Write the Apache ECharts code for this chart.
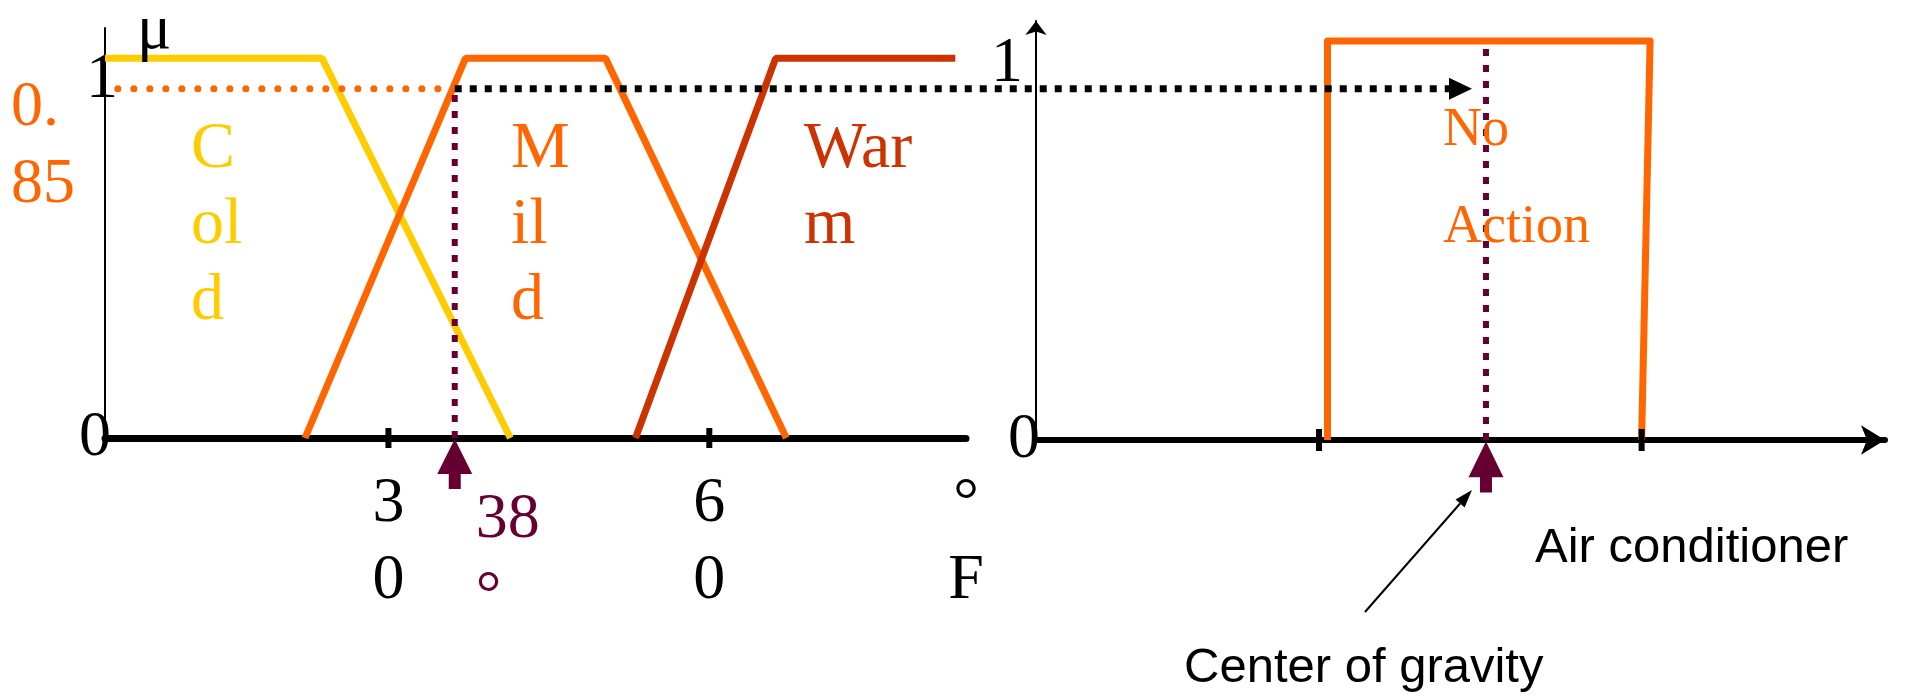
<!DOCTYPE html>
<html>
<head>
<meta charset="utf-8">
<title>Fuzzy air conditioner</title>
<script src="https://cdn.jsdelivr.net/npm/echarts/dist/echarts.min.js"></script>
<style>
  html, body { margin: 0; padding: 0; background: #fff; }
  #fuzzy { width: 1910px; height: 698px; }
</style>
</head>
<body>
<div id="fuzzy"></div>
<script>
// left: temperature (deg F) vs membership
var tempTicks = [30, 60];
var tempTickLabels = ['3\n0', '6\n0'];
var tempUnitAt = 84;
var tempUnitLabel = '°\nF';
var cold = [[3.5, 1], [23.8, 1], [41.4, 0]];
var mild = [[22.2, 0], [37.2, 1], [50.3, 1], [67.2, 0]];
var warm = [[53.1, 0], [66.2, 1], [83, 1]];
var inputTemp = 36.2;
var inputLabel = '38\n°';
var firingLevel = 0.92;
var firingLabel = '0.\n85';
var firingStart = 4.7;

// right: air conditioner output
var outTicks = [10, 21.4];
var noAction = [[10.3, 0], [10.3, 1], [21.7, 1], [21.4, 0]];
var centroid = 15.9;
var centroidTop = 0.98;
var outputLevel = 0.88;

var SERIF = '"Liberation Serif", "Times New Roman", serif';
var SANS = '"Liberation Sans", Arial, sans-serif';
var PURPLE = '#660033';

var dom = document.getElementById('fuzzy');
var myChart = echarts.init(dom);
var option = null;

// up arrow under the axis, tip sits on the data point
var upArrow = 'path://M17.5,0 L35,35 L23.5,35 L23.5,50 L11.5,50 L11.5,35 L0,35 Z';

function yLabels(shift1, shiftRight1, shiftRight0) {
  return {
    customValues: [0, 1],
    formatter: function (v) { return v === 1 ? '{one|1}' : '{zero|0}'; },
    rich: {
      one: { fontSize: 64, fontFamily: SERIF, color: '#000', padding: [shift1, shiftRight1, 0, 0] },
      zero: { fontSize: 64, fontFamily: SERIF, color: '#000', padding: [0, shiftRight0, 0, 0] }
    }
  };
}

option = {
  animation: false,
  backgroundColor: '#fff',
  grid: [
    { left: 105, right: 944, top: 28, bottom: 260 },
    { left: 1036, right: 25, top: 21, bottom: 258 }
  ],
  xAxis: [
    {
      gridIndex: 0, type: 'value', min: 3.5, max: 84,
      axisLine: { lineStyle: { color: '#000', width: 7 } },
      axisTick: { show: false },
      splitLine: { show: false },
      axisLabel: {
        customValues: tempTicks.concat([tempUnitAt]),
        formatter: function (v) {
          var i = tempTicks.indexOf(v);
          return i >= 0 ? tempTickLabels[i] : tempUnitLabel;
        },
        fontSize: 64, fontFamily: SERIF, color: '#000',
        lineHeight: 77, margin: 28
      }
    },
    {
      gridIndex: 1, type: 'value', min: 0, max: 30,
      axisLine: {
        symbol: ['none', 'arrow'], symbolSize: [22, 24],
        lineStyle: { color: '#000', width: 6 }
      },
      axisTick: { show: false },
      axisLabel: { show: false },
      splitLine: { show: false }
    }
  ],
  yAxis: [
    {
      gridIndex: 0, type: 'value', min: 0, max: 1.08,
      axisLine: { show: true, lineStyle: { color: '#000', width: 2 } },
      axisTick: { show: false },
      splitLine: { show: false },
      axisLabel: Object.assign({ margin: -13 }, yLabels(44, 0, 7))
    },
    {
      gridIndex: 1, type: 'value', min: 0, max: 1.05,
      axisLine: {
        show: true, symbol: ['none', 'arrow'], symbolSize: [16, 14],
        lineStyle: { color: '#000', width: 2 }
      },
      axisTick: { show: false },
      splitLine: { show: false },
      axisLabel: Object.assign({ margin: -4 }, yLabels(46, 17, 0))
    }
  ],
  series: [
    {
      name: 'Cold', type: 'line', xAxisIndex: 0, yAxisIndex: 0, data: cold,
      showSymbol: false, lineStyle: { color: '#FFCC00', width: 7 }
    },
    {
      name: 'Mild', type: 'line', xAxisIndex: 0, yAxisIndex: 0, data: mild,
      showSymbol: false, lineStyle: { color: '#FF6600', width: 7 }
    },
    {
      name: 'Warm', type: 'line', xAxisIndex: 0, yAxisIndex: 0, data: warm,
      showSymbol: false, lineStyle: { color: '#CC3300', width: 7 }
    },
    {
      // firing strength, dotted
      type: 'line', xAxisIndex: 0, yAxisIndex: 0,
      data: [[firingStart, firingLevel], [inputTemp, firingLevel]],
      showSymbol: false,
      lineStyle: { color: '#FF6600', width: 7, type: [0, 16], cap: 'round' }
    },
    {
      type: 'line', xAxisIndex: 0, yAxisIndex: 0,
      data: [[inputTemp, 0], [inputTemp, firingLevel]],
      showSymbol: false,
      lineStyle: { color: PURPLE, width: 6, type: [7, 9] }
    },
    {
      type: 'scatter', xAxisIndex: 0, yAxisIndex: 0,
      data: tempTicks.map(function (t) { return [t, 0]; }),
      symbol: 'rect', symbolSize: [6, 20], itemStyle: { color: '#000', opacity: 1 }, z: 5
    },
    {
      type: 'scatter', xAxisIndex: 0, yAxisIndex: 0, data: [[inputTemp, 0]],
      symbol: upArrow, symbolSize: [35, 50], symbolOffset: [0, 26],
      itemStyle: { color: PURPLE, opacity: 1 }, z: 5
    },
    {
      name: 'No Action', type: 'line', xAxisIndex: 1, yAxisIndex: 1, data: noAction,
      showSymbol: false, lineStyle: { color: '#FF6600', width: 7, join: 'round' }
    },
    {
      type: 'line', xAxisIndex: 1, yAxisIndex: 1,
      data: [[centroid, 0], [centroid, centroidTop]],
      showSymbol: false,
      lineStyle: { color: PURPLE, width: 6, type: [7, 9] }
    },
    {
      type: 'scatter', xAxisIndex: 1, yAxisIndex: 1,
      data: outTicks.map(function (t) { return [t, 0]; }),
      symbol: 'rect', symbolSize: [6, 22], itemStyle: { color: '#000', opacity: 1 }, z: 5
    },
    {
      type: 'scatter', xAxisIndex: 1, yAxisIndex: 1, data: [[centroid, 0]],
      symbol: upArrow, symbolSize: [35, 51], symbolOffset: [0, 27],
      itemStyle: { color: PURPLE, opacity: 1 }, z: 5
    }
  ]
};

if (option && typeof option === 'object') {
  myChart.setOption(option, true);
}

// annotations placed from the chart's own coordinates
var a = myChart.convertToPixel({ gridIndex: 0 }, [inputTemp, firingLevel]);
var c = myChart.convertToPixel({ gridIndex: 1 }, [centroid, outputLevel]);
var g = myChart.convertToPixel({ gridIndex: 1 }, [centroid, 0]);
var tipX = c[0] - 14;

// thin pointer to the centroid arrow
var tail = [g[0] - 121, g[1] + 172];
var head = [g[0] - 14, g[1] + 50];
var dx = head[0] - tail[0], dy = head[1] - tail[1];
var len = Math.sqrt(dx * dx + dy * dy);
var ux = dx / len, uy = dy / len;
var bx = head[0] - 18 * ux, by = head[1] - 18 * uy;

function txt(x, y, text, font, color, lineHeight, vAlign) {
  return {
    type: 'text', x: x, y: y, z: 20,
    style: {
      text: text, font: font, fill: color, lineHeight: lineHeight,
      textAlign: 'left', textVerticalAlign: vAlign || 'top'
    }
  };
}

myChart.setOption({
  graphic: [
    {
      type: 'line', z: 10,
      shape: { x1: a[0], y1: a[1], x2: tipX - 22, y2: a[1] },
      style: { stroke: '#000', lineWidth: 7, lineDash: [7, 8] }
    },
    {
      type: 'polygon', z: 10,
      shape: { points: [[tipX - 23, a[1] - 11], [tipX, a[1]], [tipX - 23, a[1] + 11]] },
      style: { fill: '#000' }
    },
    {
      type: 'line', z: 10,
      shape: { x1: tail[0], y1: tail[1], x2: bx, y2: by },
      style: { stroke: '#000', lineWidth: 2 }
    },
    {
      type: 'polygon', z: 10,
      shape: { points: [head, [bx + 6 * uy, by - 6 * ux], [bx - 6 * uy, by + 6 * ux]] },
      style: { fill: '#000' }
    },
    txt(137, 31, 'μ', '64px ' + SERIF, '#000', 64, 'middle'),
    txt(11, 69.5, firingLabel, '64px ' + SERIF, '#FF6600', 77),
    txt(191, 112, 'C\nol\nd', '66px ' + SERIF, '#FFCC00', 76),
    txt(511, 112, 'M\nil\nd', '66px ' + SERIF, '#FF6600', 76),
    txt(804, 112, 'War\nm', '66px ' + SERIF, '#CC3300', 76),
    txt(a[0] + 21, 482, inputLabel, '64px ' + SERIF, PURPLE, 77),
    txt(1443, 82, 'No\nAction', '54px ' + SERIF, '#FF6600', 97),
    txt(1535, 548, 'Air conditioner', '49px ' + SANS, '#000', 56, 'middle'),
    txt(1184, 668, 'Center of gravity', '49px ' + SANS, '#000', 56, 'middle')
  ]
});
</script>
</body>
</html>
